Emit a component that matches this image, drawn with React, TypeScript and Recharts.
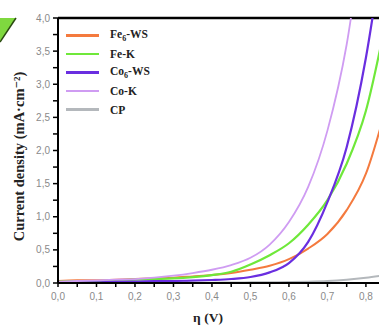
import React from "react";
import { LineChart, Line, XAxis, YAxis, ReferenceLine } from "recharts";

const eta = [0, 0.05, 0.1, 0.15, 0.2, 0.25, 0.3, 0.35, 0.4, 0.45, 0.5, 0.55, 0.6, 0.65, 0.7, 0.75, 0.8, 0.85];
const fe6ws = [0.03, 0.04, 0.04, 0.05, 0.06, 0.07, 0.08, 0.1, 0.12, 0.15, 0.2, 0.26, 0.36, 0.52, 0.74, 1.1, 1.65, 2.6];
const feK = [0.02, 0.03, 0.03, 0.04, 0.05, 0.06, 0.07, 0.09, 0.12, 0.17, 0.28, 0.42, 0.6, 0.88, 1.25, 1.8, 2.6, 3.9];
const co6ws = [0.0, 0.01, 0.01, 0.02, 0.02, 0.03, 0.03, 0.035, 0.045, 0.06, 0.09, 0.16, 0.3, 0.62, 1.22, 2.05, 3.4, 5.3];
const coK = [0.02, 0.03, 0.04, 0.05, 0.06, 0.08, 0.11, 0.15, 0.2, 0.27, 0.38, 0.58, 0.92, 1.45, 2.3, 3.6, 5.6, 7.5];
const cp = [0, 0, 0, 0, 0, 0, 0, 0.005, 0.005, 0.008, 0.01, 0.012, 0.015, 0.02, 0.03, 0.05, 0.08, 0.12];

const xTicks = [0, 0.05, 0.1, 0.15, 0.2, 0.25, 0.3, 0.35, 0.4, 0.45, 0.5, 0.55, 0.6, 0.65, 0.7, 0.75, 0.8];
const yTicks = [0, 0.25, 0.5, 0.75, 1, 1.25, 1.5, 1.75, 2, 2.25, 2.5, 2.75, 3, 3.25, 3.5, 3.75, 4];

const series = [
  { key: "fe6ws", name: "Fe", sub: "6", suffix: "-WS", color: "#f47a3e", width: 2 },
  { key: "feK", name: "Fe-K", sub: "", suffix: "", color: "#6fe83a", width: 2.2 },
  { key: "co6ws", name: "Co", sub: "6", suffix: "-WS", color: "#6a2ee0", width: 2.2 },
  { key: "coK", name: "Co-K", sub: "", suffix: "", color: "#cf9cf2", width: 1.8 },
  { key: "cp", name: "CP", sub: "", suffix: "", color: "#b4b8bc", width: 2 },
];

const data = eta.map((e, i) => ({
  eta: e,
  fe6ws: fe6ws[i],
  feK: feK[i],
  co6ws: co6ws[i],
  coK: coK[i],
  cp: cp[i],
}));

const fmt = (v: number) => (Math.abs(Math.round(v * 10) - v * 10) < 1e-6 ? v.toFixed(1).replace(".", ",") : "");
const fmtY = (v: number) => (Math.abs(Math.round(v * 2) - v * 2) < 1e-6 ? v.toFixed(1).replace(".", ",") : "");

const serif = "'Liberation Serif', 'DejaVu Serif', serif";

export default function App() {
  return (
    <div style={{ position: "absolute", left: 0, top: 0, width: 379, height: 327, background: "#fff", overflow: "hidden" }}>
      <svg width={20} height={50} style={{ position: "absolute", left: 0, top: 0 }}>
        <polygon points="0,18 16,18 0,42" fill="#7fd83f" />
        <line x1={16} y1={18} x2={0} y2={42} stroke="#2a4a10" strokeWidth={1.5} />
      </svg>
      <LineChart width={379} height={327} data={data} margin={{ top: 18, right: 0, bottom: 0, left: 0 }}>
        <XAxis
          dataKey="eta"
          type="number"
          domain={[0, 0.834]}
          ticks={xTicks}
          tickFormatter={fmt}
          interval={0}
          height={44}
          axisLine={{ stroke: "#000", strokeWidth: 2 }}
          tickLine={{ stroke: "#000", strokeWidth: 1.5 }}
          tickSize={4}
          tickMargin={6}
          tick={{ fill: "#8a8a8a", fontSize: 10, fontFamily: "'Liberation Sans', Arial, sans-serif" }}
          allowDataOverflow
        />
        <YAxis
          type="number"
          domain={[0, 4]}
          ticks={yTicks}
          tickFormatter={fmtY}
          interval={0}
          width={58}
          axisLine={{ stroke: "#000", strokeWidth: 2 }}
          tickLine={{ stroke: "#000", strokeWidth: 1.5 }}
          tickSize={5}
          tickMargin={3}
          tick={{ fill: "#8a8a8a", fontSize: 10, fontFamily: "'Liberation Sans', Arial, sans-serif" }}
          allowDataOverflow
          label={{
            value: "Current density (mA·cm⁻²)",
            angle: -90,
            position: "insideLeft",
            offset: 0,
            dx: 19,
            dy: 6,
            style: { fontFamily: serif, fontWeight: 700, fontSize: 14.5, fill: "#222", textAnchor: "middle" },
          }}
        />
        <ReferenceLine y={4} stroke="#000" strokeWidth={2.5} />
        {series.map((s) => (
          <Line
            key={s.key}
            dataKey={s.key}
            type="monotone"
            stroke={s.color}
            strokeWidth={s.width}
            dot={false}
            isAnimationActive={false}
            name={s.key}
          />
        ))}
      </LineChart>
      <div
        style={{
          position: "absolute",
          left: 66,
          top: 26,
          fontFamily: serif,
          fontWeight: 700,
          fontSize: 11.5,
          color: "#222",
        }}
      >
        {series.map((s) => (
          <div key={s.key} style={{ display: "flex", alignItems: "center", height: 18.6 }}>
            <div style={{ width: 33, height: 2.5, background: s.color, marginRight: 11 }} />
            <span>
              {s.name}
              {s.sub ? <sub style={{ fontSize: 8 }}>{s.sub}</sub> : null}
              {s.suffix}
            </span>
          </div>
        ))}
      </div>
      <div
        style={{
          position: "absolute",
          left: 178,
          top: 311,
          width: 60,
          textAlign: "center",
          fontFamily: serif,
          fontWeight: 700,
          fontSize: 13.5,
          lineHeight: 1,
          color: "#222",
        }}
      >
        η (V)
      </div>
    </div>
  );
}
